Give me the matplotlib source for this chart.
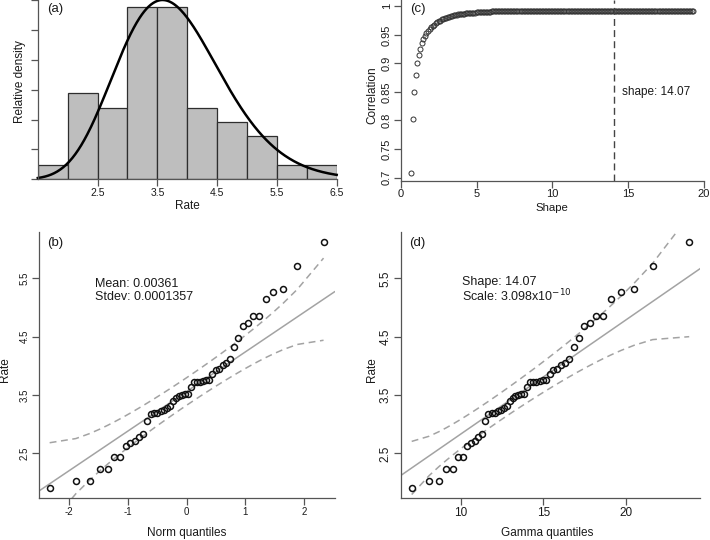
import math
from statistics import NormalDist
import numpy as np
import matplotlib
matplotlib.use('Agg')
import matplotlib.pyplot as plt

plt.rcParams['font.family'] = ['Liberation Sans', 'DejaVu Sans']
plt.rcParams['axes.unicode_minus'] = False

# sorted rate values
rate = [1.91, 2.02, 2.02, 2.24, 2.24, 2.44, 2.44, 2.63, 2.68, 2.72,
        2.78, 2.84, 3.06, 3.17, 3.19, 3.19, 3.22, 3.25, 3.28, 3.32,
        3.39, 3.45, 3.48, 3.495, 3.51, 3.52, 3.64, 3.72, 3.72, 3.73,
        3.74, 3.75, 3.75, 3.86, 3.92, 3.95, 4.01, 4.04, 4.11, 4.32,
        4.48, 4.69, 4.74, 4.85, 4.86, 5.15, 5.26, 5.32, 5.71, 6.12]

bin_edges = [1.5, 2.0, 2.5, 3.0, 3.5, 4.0, 4.5, 5.0, 5.5, 6.0, 6.5]
hist_xticks = [2.5, 3.5, 4.5, 5.5, 6.5]
curve_shape = 18.0      # fitted density drawn over the histogram
curve_scale = 0.211
curve_peak = 0.5

# (c) correlation for shape 0.7, 0.8, ... 19.3
shape_from, shape_to = 0.7, 19.3
correlation = [
    0.708, 0.802, 0.850, 0.880, 0.900, 0.915, 0.926, 0.935, 0.942, 0.948,
    0.953, 0.957, 0.960, 0.963, 0.966, 0.968, 0.970, 0.972, 0.974, 0.975,
    0.977, 0.978, 0.979, 0.980, 0.981, 0.982, 0.983, 0.983, 0.984, 0.985,
    0.985, 0.986, 0.986, 0.987, 0.987, 0.987, 0.988, 0.988, 0.988, 0.989,
    0.989, 0.989, 0.989, 0.990, 0.990, 0.990, 0.990, 0.990, 0.990, 0.990,
    0.990, 0.990, 0.990, 0.991, 0.991, 0.991, 0.991, 0.991, 0.991, 0.991,
    0.991, 0.991, 0.991, 0.991, 0.991, 0.991, 0.991, 0.991, 0.991, 0.991,
    0.991, 0.991, 0.991, 0.992, 0.992, 0.992, 0.992, 0.992, 0.992, 0.992,
    0.992, 0.992, 0.992, 0.992, 0.992, 0.992, 0.992, 0.992, 0.992, 0.992,
    0.992, 0.992, 0.992, 0.992, 0.992, 0.992, 0.992, 0.992, 0.992, 0.992,
    0.992, 0.992, 0.992, 0.992, 0.992, 0.992, 0.992, 0.992, 0.992, 0.992,
    0.992, 0.992, 0.992, 0.992, 0.992, 0.992, 0.992, 0.992, 0.992, 0.992,
    0.992, 0.992, 0.992, 0.992, 0.992, 0.992, 0.992, 0.992, 0.992, 0.992,
    0.992, 0.992, 0.992, 0.992, 0.992, 0.992, 0.992, 0.992, 0.992, 0.992,
    0.992, 0.992, 0.992, 0.992, 0.992, 0.992, 0.992, 0.992, 0.992, 0.992,
    0.992, 0.992, 0.992, 0.992, 0.992, 0.992, 0.992, 0.992, 0.992, 0.992,
    0.992, 0.992, 0.992, 0.992, 0.992, 0.992, 0.992, 0.992, 0.992, 0.992,
    0.992, 0.992, 0.992, 0.992, 0.992, 0.992, 0.992, 0.992, 0.992, 0.992,
    0.992, 0.992, 0.992, 0.992, 0.992, 0.992, 0.992]
best_shape = 14.07

norm_line = (3.56, 0.68)       # intercept, slope of the reference line in (b)
gamma_line = (0.882, 0.195)    # same for (d)
qq_gamma_shape = 15.0
qq_gamma_scale = 0.938

AXCOL = '#555555'
TXT = '#1a1a1a'
GREY = '#a3a3a3'


def gamma_pdf(x, shape, scale=1.0):
    x = np.asarray(x, dtype=float)
    lp = (shape - 1) * np.log(x) - x / scale - math.lgamma(shape) - shape * math.log(scale)
    return np.exp(lp)


def gamma_ppf(p, shape, scale=1.0):
    hi = shape + 30 * math.sqrt(shape) + 60
    x = np.logspace(-9, math.log10(hi), 20000)
    g = gamma_pdf(x, shape) * x          # integrate in log x
    lx = np.log(x)
    cdf = np.concatenate([[0.0], np.cumsum(0.5 * (g[1:] + g[:-1]) * np.diff(lx))])
    cdf += x[0] ** shape / (shape * math.gamma(shape))
    return np.interp(p, cdf, x) * scale


def r_limits(v):
    lo, hi = min(v), max(v)
    d = 0.04 * (hi - lo)
    return lo - d, hi + d


n = len(rate)
y = np.array(rate)
pp = (np.arange(1, n + 1) - 0.5) / n

fig = plt.figure(figsize=(7.1, 5.4), dpi=100)


def px_axes(left, top, right, bottom):
    return fig.add_axes([left / 710, 1 - bottom / 540, (right - left) / 710, (bottom - top) / 540])


def style(ax, fs):
    for s in ['top', 'right']:
        ax.spines[s].set_visible(False)
    for s in ['left', 'bottom']:
        ax.spines[s].set_color(AXCOL)
        ax.spines[s].set_linewidth(0.9)
    ax.tick_params(direction='out', length=5, width=0.9, color=AXCOL,
                   labelsize=fs, labelcolor=TXT, pad=1.5)
    plt.setp(ax.get_yticklabels(), rotation=90, va='center')


def label(x, yy, s, rot=0, fs=8.5):
    fig.text(x / 710, 1 - yy / 540, s, ha='center', va='center', rotation=rot,
             fontsize=fs, color=TXT)


# (a) histogram
ax_a = px_axes(37.8, 0, 336.7, 179.3)
ax_a.hist(rate, bins=bin_edges, density=True, color='#bebebe', edgecolor='#2e2e2e', linewidth=0.9)
xc = np.linspace(bin_edges[0], bin_edges[-1], 400)
dens = gamma_pdf(xc, curve_shape, curve_scale)
ax_a.plot(xc, dens / dens.max() * curve_peak, color='black', lw=1.8, clip_on=False)
ax_a.set_xlim(bin_edges[0], bin_edges[-1])
ax_a.set_ylim(0, curve_peak)
ax_a.set_xticks(hist_xticks)
ax_a.set_xticklabels([str(t) for t in hist_xticks])
ax_a.set_yticks(np.linspace(0, curve_peak, 7))
ax_a.set_yticklabels([])
style(ax_a, 7.5)
ax_a.text(0.03, 0.95, '(a)', transform=ax_a.transAxes, fontsize=9.5, color=TXT, va='center')
label(187, 206, 'Rate')
label(20, 82, 'Relative density', rot=90)

# (c) probability plot correlation over gamma shape
shapes = np.linspace(shape_from, shape_to, len(correlation))
ax_c = px_axes(400.7, 0, 704, 181)
ax_c.plot(shapes, correlation, 'o', mfc='none', mec='#333333', ms=3.6, mew=0.7)
ax_c.axvline(best_shape, color='#444444', lw=1, ls=(0, (5, 3)))
ax_c.text(best_shape + 0.55, 0.85, 'shape: %.2f' % best_shape, fontsize=8.5, color=TXT, va='center')
ax_c.set_xlim(0, 20)
ax_c.set_ylim(0.694, 1.011)
ax_c.set_xticks([0, 5, 10, 15, 20])
ax_c.set_yticks([0.7, 0.75, 0.8, 0.85, 0.9, 0.95, 1.0])
ax_c.set_yticklabels(['0.7', '0.75', '0.8', '0.85', '0.9', '0.95', '1'])
style(ax_c, 8)
ax_c.tick_params(axis='x', pad=1)
ax_c.text(0.03, 0.95, '(c)', transform=ax_c.transAxes, fontsize=9.5, color=TXT, va='center')
label(551.7, 208, 'Shape', fs=8.2)
label(372, 95, 'Correlation', rot=90)


def qq_panel(ax, q, dens_q, line, fs):
    b0, b1 = line
    se = b1 / dens_q * np.sqrt(pp * (1 - pp) / n)
    fit = b0 + b1 * q
    ax.axline((0, b0), slope=b1, color=GREY, lw=1.1)
    ax.plot(q, fit + 1.96 * se, color=GREY, lw=1.1, ls=(0, (4.5, 3)))
    ax.plot(q, fit - 1.96 * se, color=GREY, lw=1.1, ls=(0, (4.5, 3)))
    ax.plot(q, y, 'o', mfc='none', mec='#111111', ms=4.3, mew=1.1)
    ax.set_xlim(*r_limits(q))
    ax.set_ylim(*r_limits(y))
    ax.set_yticks([2.5, 3.5, 4.5, 5.5])
    style(ax, fs)


# (b) normal Q-Q
zq = np.array([NormalDist().inv_cdf(p) for p in pp])
ax_b = px_axes(38.7, 232.3, 334.5, 497.6)
qq_panel(ax_b, zq, np.exp(-zq ** 2 / 2) / math.sqrt(2 * math.pi), norm_line, 7)
ax_b.set_xticks([-2, -1, 0, 1, 2])
ax_b.text(0.03, 0.96, '(b)', transform=ax_b.transAxes, fontsize=9.5, color=TXT, va='center')
fig.text(95 / 710, 1 - 290.5 / 540, 'Mean: 0.00361\nStdev: 0.0001357', fontsize=9, color=TXT,
         va='center', linespacing=1.15)
label(186.7, 533, 'Norm quantiles')
label(5, 370, 'Rate', rot=90)

# (d) gamma Q-Q
gq = gamma_ppf(pp, qq_gamma_shape, qq_gamma_scale)
ax_d = px_axes(400.6, 232.3, 700.3, 497.6)
qq_panel(ax_d, gq, gamma_pdf(gq, qq_gamma_shape, qq_gamma_scale), gamma_line, 8.5)
ax_d.set_xticks([10, 15, 20])
ax_d.text(0.03, 0.96, '(d)', transform=ax_d.transAxes, fontsize=9.5, color=TXT, va='center')
fig.text(462 / 710, 1 - 290 / 540, 'Shape: %.2f\n' % best_shape + r'Scale: 3.098x10$^{-10}$',
         fontsize=9, color=TXT, va='center', linespacing=0.95)
label(546.7, 533, 'Gamma quantiles')
label(372, 370, 'Rate', rot=90)

fig.savefig('out.png', dpi=100)
